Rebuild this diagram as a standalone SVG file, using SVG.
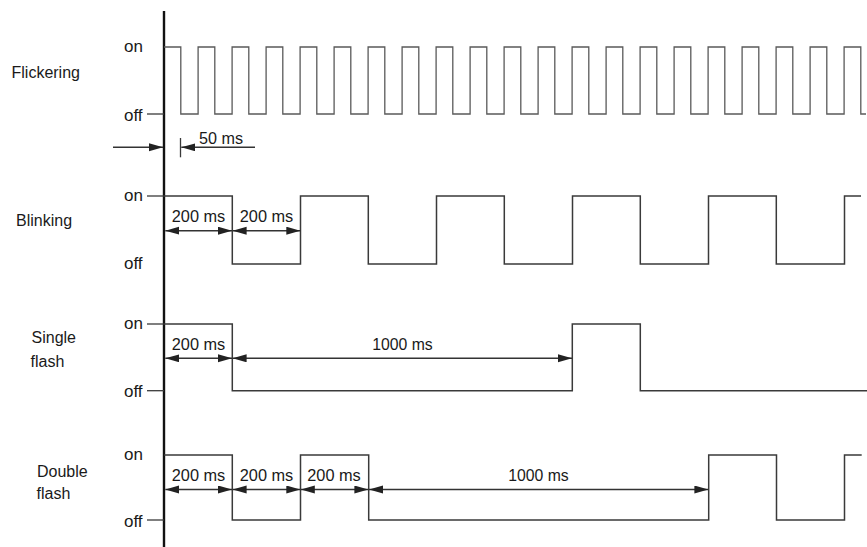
<svg xmlns="http://www.w3.org/2000/svg" width="867" height="547" viewBox="0 0 867 547">
<style>
text{font-family:"Liberation Sans",Arial,sans-serif;fill:#1a1a1a}
.lbl{font-size:16px}
.lvl{font-size:17px}
.dim{font-size:17px;text-anchor:middle}
.sig{fill:none;stroke:#3a3a3a;stroke-width:1.5}
.flk{fill:none;stroke:#5a5a5a;stroke-width:1.3}
.tick{stroke:#3a3a3a;stroke-width:1.3}
.arr{stroke:#333;stroke-width:1.4;fill:none;marker-end:url(#ah)}
.darr{stroke:#333;stroke-width:1.4;fill:none;marker-start:url(#ah);marker-end:url(#ah)}
</style>
<defs>
<marker id="ah" markerUnits="userSpaceOnUse" markerWidth="15" markerHeight="9" refX="14" refY="4" orient="auto-start-reverse" viewBox="0 0 15 9">
<path d="M0,0 L14,4 L0,8 Z" fill="#222"/>
</marker>
</defs>
<rect width="867" height="547" fill="#fff"/>

<g id="axis">
<line x1="164" y1="11" x2="164" y2="547" stroke="#111" stroke-width="2.4"/>
</g>

<g id="flickering">
<text class="lbl" x="11.5" y="77.5">Flickering</text>
<text class="lvl" x="124" y="51.7">on</text>
<text class="lvl" x="124" y="120.5">off</text>
<line class="tick" x1="147" y1="114" x2="164" y2="114"/>
<path class="flk" d="M164,47 H180.8 V114 H198.1 V47 H214.8 V114 H232.1 V47 H248.8 V114 H266.1 V47 H282.8 V114 H300.1 V47 H316.8 V114 H334.1 V47 H350.8 V114 H368.1 V47 H384.8 V114 H402.1 V47 H418.8 V114 H436.1 V47 H452.8 V114 H470.1 V47 H486.8 V114 H504.1 V47 H520.8 V114 H538.1 V47 H554.8 V114 H572.1 V47 H588.8 V114 H606.1 V47 H622.8 V114 H640.1 V47 H656.8 V114 H674.1 V47 H690.8 V114 H708.1 V47 H724.8 V114 H742.1 V47 H758.8 V114 H776.1 V47 H792.8 V114 H810.1 V47 H826.8 V114 H844.1 V47 H860.8 V114 H866"/>
</g>

<g id="blinking">
<text class="lbl" x="16" y="226">Blinking</text>
<text class="lvl" x="124" y="200.5">on</text>
<text class="lvl" x="124" y="269">off</text>
<line class="tick" x1="147" y1="196" x2="164" y2="196"/>
<path class="sig" d="M164,196 H232.3 V264 H300.5 V196 H368.3 V264 H436.5 V196 H504.3 V264 H572.5 V196 H640.3 V264 H708.5 V196 H776.3 V264 H844.5 V196 H861"/>
</g>

<g id="single-flash">
<text class="lbl" x="31.5" y="343">Single</text>
<text class="lbl" x="30.5" y="366.5">flash</text>
<text class="lvl" x="124" y="329">on</text>
<text class="lvl" x="124" y="397">off</text>
<line class="tick" x1="147" y1="324" x2="164" y2="324"/>
<line class="tick" x1="147" y1="390.7" x2="164" y2="390.7"/>
<path class="sig" d="M164,324 H232.3 V390.7 H572.3 V324 H640.3 V390.7 H867"/>
</g>

<g id="double-flash">
<text class="lbl" x="37" y="477">Double</text>
<text class="lbl" x="36.5" y="499">flash</text>
<text class="lvl" x="124" y="460">on</text>
<text class="lvl" x="124" y="527">off</text>
<line class="tick" x1="147" y1="520" x2="164" y2="520"/>
<path class="sig" d="M164,455 H232.3 V520 H300.5 V455 H368.7 V520 H708.7 V455 H776.5 V520 H844.5 V455 H861.7"/>
</g>

<g id="connectors">
<line class="arr" x1="113" y1="147.3" x2="163" y2="147.3"/>
<line class="tick" x1="180.5" y1="138" x2="180.5" y2="157.3"/>
<line class="arr" x1="255" y1="147.3" x2="181.3" y2="147.3"/>
<text class="lbl" x="199" y="143.5" textLength="44" lengthAdjust="spacingAndGlyphs">50 ms</text>

<line class="darr" x1="165.3" y1="230.7" x2="232" y2="230.7"/>
<line class="darr" x1="232.6" y1="230.7" x2="300.3" y2="230.7"/>
<text class="dim" x="198.5" y="222" textLength="53.5" lengthAdjust="spacingAndGlyphs">200 ms</text>
<text class="dim" x="266.5" y="222" textLength="53.5" lengthAdjust="spacingAndGlyphs">200 ms</text>

<line class="darr" x1="165.3" y1="358.3" x2="232" y2="358.3"/>
<line class="darr" x1="232.6" y1="358.3" x2="572" y2="358.3"/>
<text class="dim" x="198.5" y="350" textLength="53.5" lengthAdjust="spacingAndGlyphs">200 ms</text>
<text class="dim" x="402.5" y="350" textLength="60.5" lengthAdjust="spacingAndGlyphs">1000 ms</text>

<line class="darr" x1="165.3" y1="489.5" x2="232" y2="489.5"/>
<line class="darr" x1="232.6" y1="489.5" x2="300.3" y2="489.5"/>
<line class="darr" x1="300.8" y1="489.5" x2="368.4" y2="489.5"/>
<line class="darr" x1="369" y1="489.5" x2="708.4" y2="489.5"/>
<text class="dim" x="198.5" y="481" textLength="53.5" lengthAdjust="spacingAndGlyphs">200 ms</text>
<text class="dim" x="266.5" y="481" textLength="53.5" lengthAdjust="spacingAndGlyphs">200 ms</text>
<text class="dim" x="334" y="481" textLength="53.5" lengthAdjust="spacingAndGlyphs">200 ms</text>
<text class="dim" x="538.5" y="481" textLength="60.5" lengthAdjust="spacingAndGlyphs">1000 ms</text>
</g>
</svg>
